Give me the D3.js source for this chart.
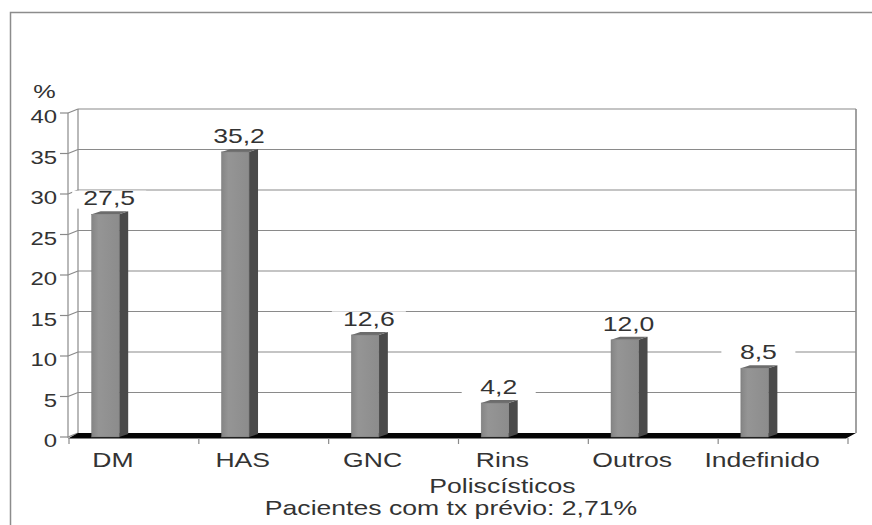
<!DOCTYPE html>
<html>
<head>
<meta charset="utf-8">
<script src="https://cdn.jsdelivr.net/npm/d3@7/dist/d3.min.js"></script>
<style>
  html, body { margin: 0; padding: 0; background: #fff; }
  svg { display: block; }
  text { font-family: "Liberation Sans", Arial, sans-serif; fill: #333; }
</style>
</head>
<body>
<svg id="chart" width="872" height="525"></svg>
<script>
// ---- data ----
const categories = ["DM", "HAS", "GNC", "Rins Poliscísticos", "Outros", "Indefinido"];
const values = [27.5, 35.2, 12.6, 4.2, 12.0, 8.5];
const valueLabels = ["27,5", "35,2", "12,6", "4,2", "12,0", "8,5"];
const yTicks = [0, 5, 10, 15, 20, 25, 30, 35, 40];
const yUnit = "%";
const footnote = "Pacientes com tx prévio: 2,71%";

// ---- layout ----
const svg = d3.select("#chart");
const SX = 1.33;           // horizontal stretch of the reference lettering
const wallDX = 10, wallDY = -4;   // depth of the 3D walls
const barDX = 9, barDY = -3;      // depth of each bar
const gridColor = "#8a8a8a";

const x = d3.scaleBand().domain(categories).range([69, 848]).padding(0);
const y = d3.scaleLinear().domain([0, 40]).range([437, 113]);
const barOffset = 22.7, barW = 27.5;

function stretchedText(g, tx, ty, str, size, anchor) {
  return g.append("text")
    .attr("transform", `translate(${tx},${ty}) scale(${SX},1)`)
    .attr("text-anchor", anchor)
    .style("font-size", size + "px")
    .text(str);
}

// outer frame
svg.append("path")
  .attr("d", "M10.5,525 L10.5,12.5 L872,12.5")
  .attr("fill", "none").attr("stroke", "#8c8c8c").attr("stroke-width", 1.5);

const [x0, x1] = x.range();
const bx0 = x0 + wallDX - 1, bx1 = x1 + wallDX - 2;

// back-wall gridlines
const grid = svg.append("g");
yTicks.forEach(t => {
  const yb = y(t) + wallDY;
  if (t > 0) {
    grid.append("line").attr("x1", bx0).attr("x2", bx1).attr("y1", yb).attr("y2", yb)
      .attr("stroke", gridColor).attr("stroke-width", 1.2);
  }
  // side wall slant
  grid.append("line").attr("x1", x0 - 1).attr("y1", y(t)).attr("x2", bx0).attr("y2", yb)
    .attr("stroke", gridColor).attr("stroke-width", 1.2);
});
// back wall vertical edges
grid.append("line").attr("x1", bx0).attr("x2", bx0).attr("y1", y(40) + wallDY).attr("y2", y(0) + wallDY)
  .attr("stroke", gridColor).attr("stroke-width", 1.2);
grid.append("line").attr("x1", bx1).attr("x2", bx1).attr("y1", y(40) + wallDY).attr("y2", y(0) + wallDY)
  .attr("stroke", gridColor).attr("stroke-width", 1.6);

// front y axis
const yAxisG = svg.append("g");
yAxisG.append("line").attr("x1", x0 - 1).attr("x2", x0 - 1).attr("y1", y(40)).attr("y2", y(0) + 1)
  .attr("stroke", gridColor).attr("stroke-width", 1.2);
yTicks.forEach(t => {
  yAxisG.append("line").attr("x1", x0 - 9).attr("x2", x0 - 1).attr("y1", y(t)).attr("y2", y(t))
    .attr("stroke", gridColor).attr("stroke-width", 1.2);
  stretchedText(yAxisG, 57, y(t) + 10, String(t), 18, "end");
});
stretchedText(svg, 44.5, 98, yUnit, 19, "middle");

// floor (black)
svg.append("path")
  .attr("d", `M${x0 - 1},${y(0) + 1.5} L${x1 - 2},${y(0) + 1.5} L${bx1},${y(0) + wallDY} L${bx0},${y(0) + wallDY} Z`)
  .attr("fill", "#050505");

// x ticks
const xTickPos = categories.map(c => x(c)).concat([x1]);
xTickPos.forEach(px => {
  svg.append("line").attr("x1", px).attr("x2", px).attr("y1", y(0) + 1).attr("y2", y(0) + 7)
    .attr("stroke", gridColor).attr("stroke-width", 1.2);
});

// bars
const defs = svg.append("defs");
const grad = defs.append("linearGradient").attr("id", "front").attr("x1", "0").attr("x2", "1");
grad.append("stop").attr("offset", "0").attr("stop-color", "#858585");
grad.append("stop").attr("offset", "0.25").attr("stop-color", "#959595");
grad.append("stop").attr("offset", "1").attr("stop-color", "#8c8c8c");

const bars = svg.append("g");
categories.forEach((c, i) => {
  const bl = x(c) + barOffset, br = bl + barW;
  const yt = y(values[i]), yb = y(0);
  // side
  bars.append("path")
    .attr("d", `M${br},${yt} L${br + barDX},${yt + barDY} L${br + barDX},${yb + barDY} L${br},${yb} Z`)
    .attr("fill", "#4a4a4a");
  // top
  bars.append("path")
    .attr("d", `M${bl},${yt} L${bl + barDX},${yt + barDY} L${br + barDX},${yt + barDY} L${br},${yt} Z`)
    .attr("fill", "#6c6c6c");
  // front
  bars.append("rect").attr("x", bl).attr("y", yt).attr("width", barW).attr("height", yb - yt)
    .attr("fill", "url(#front)").attr("stroke", "#777").attr("stroke-width", 0.5);
});

// value labels with white boxes
const labels = svg.append("g");
categories.forEach((c, i) => {
  const cx = x(c) + barOffset + 17.5;
  const base = y(values[i]) - 9;
  labels.append("rect").attr("x", cx - 37).attr("y", base - 14.6).attr("width", 74).attr("height", 18)
    .attr("fill", "#fff");
  stretchedText(labels, cx, base, valueLabels[i], 20, "middle");
});

// category labels
const catG = svg.append("g");
categories.forEach(c => {
  const cx = x(c) + x.bandwidth() / 2 - 21;
  const parts = c === "Rins Poliscísticos" ? ["Rins", "Poliscísticos"] : [c];
  parts.forEach((p, j) => stretchedText(catG, cx, 467 + j * 26, p, 20, "middle"));
});

// footnote
stretchedText(svg, 451, 515, footnote, 20, "middle");
</script>
</body>
</html>
